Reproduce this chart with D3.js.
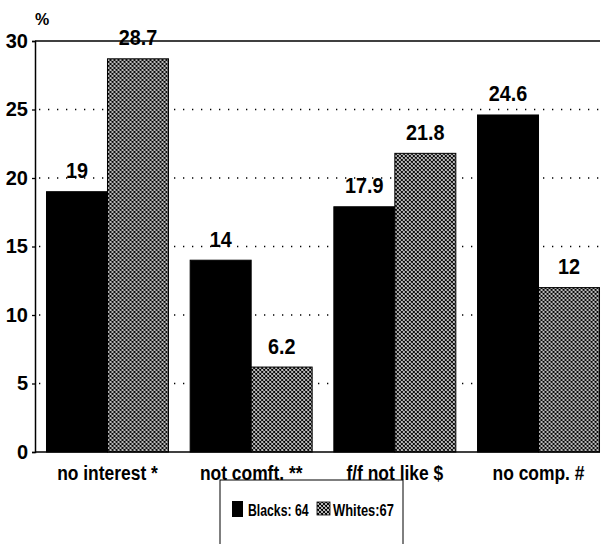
<!DOCTYPE html>
<html>
<head>
<meta charset="utf-8">
<script src="https://cdn.jsdelivr.net/npm/d3@7"></script>
<style>
  body { margin: 0; background: #fff; }
  svg { display: block; }
  text { font-family: "Liberation Sans", Arial, sans-serif; font-weight: bold; fill: #000; }
</style>
</head>
<body>
<svg id="chart" width="602" height="544"></svg>
<script>
const categories = ["no interest *", "not comft. **", "f/f not like $", "no comp. #"];
const seriesNames = ["Blacks: 64", "Whites:67"];
const blacks = [19, 14, 17.9, 24.6];
const whites = [28.7, 6.2, 21.8, 12];
const yTicks = [0, 5, 10, 15, 20, 25, 30];

const data = categories.map((c, i) => ({ cat: c, values: [blacks[i], whites[i]] }));

const chart = d3.select("#chart");
const plotLeft = 35, plotRight = 600, plotTop = 41, plotBottom = 452;

const defs = chart.append("defs");
const pat = defs.append("pattern")
  .attr("id", "hatch")
  .attr("patternUnits", "userSpaceOnUse")
  .attr("width", 4)
  .attr("height", 4);
pat.append("rect").attr("width", 4).attr("height", 4).attr("fill", "#fff");
pat.append("path")
  .attr("d", "M0,0 L4,4 M4,0 L0,4 M-1,3 L1,5 M3,-1 L5,1 M3,5 L5,3 M-1,1 L1,-1")
  .attr("stroke", "#000")
  .attr("stroke-width", 1.1);

const x0 = d3.scaleBand()
  .domain(categories)
  .range([plotLeft, 611])
  .paddingInner(0.151)
  .paddingOuter(0.08);

const x1 = d3.scaleBand()
  .domain([0, 1])
  .range([0, x0.bandwidth()]);

const yScale = d3.scaleLinear().domain([0, 30]).range([plotBottom, plotTop]);

// dotted grid
chart.append("g")
  .selectAll("line")
  .data(yTicks.filter((t) => t > 0 && t < 30))
  .enter()
  .append("line")
  .attr("x1", plotLeft + 4)
  .attr("x2", plotRight)
  .attr("y1", (d) => yScale(d))
  .attr("y2", (d) => yScale(d))
  .attr("stroke", "#000")
  .attr("stroke-width", 1.3)
  .attr("stroke-dasharray", "1.3,7.7");

// bars
const groups = chart.append("g")
  .selectAll("g")
  .data(data)
  .enter()
  .append("g")
  .attr("transform", (d) => `translate(${x0(d.cat)},0)`);

groups.selectAll("rect")
  .data((d) => d.values.map((v, i) => ({ v, i })))
  .enter()
  .append("rect")
  .attr("x", (d) => x1(d.i))
  .attr("y", (d) => yScale(d.v))
  .attr("width", x1.bandwidth())
  .attr("height", (d) => yScale(0) - yScale(d.v))
  .attr("fill", (d) => (d.i === 0 ? "#000" : "url(#hatch)"))
  .attr("stroke", "#000")
  .attr("stroke-width", 1);

groups.selectAll("text")
  .data((d) => d.values.map((v, i) => ({ v, i })))
  .enter()
  .append("text")
  .attr("transform", (d) => `translate(${x1(d.i) + x1.bandwidth() / 2},${yScale(d.v) - 13.5}) scale(0.9,1)`)
  .attr("text-anchor", "middle")
  .style("font-size", "22px")
  .text((d) => d.v);

// frame and axis
const yAxis = d3.axisLeft(yScale).tickValues(yTicks).tickSize(3).tickPadding(4);
const ay = chart.append("g").attr("transform", `translate(${plotLeft},0)`).call(yAxis);
ay.select(".domain").attr("stroke-width", 1.5);
ay.selectAll(".tick line").attr("stroke-width", 1.3);
ay.selectAll("text").style("font-size", "20px");

chart.append("line")
  .attr("x1", plotLeft).attr("x2", plotRight)
  .attr("y1", plotTop).attr("y2", plotTop)
  .attr("stroke", "#000").attr("stroke-width", 1.6);
chart.append("line")
  .attr("x1", plotLeft).attr("x2", plotRight)
  .attr("y1", plotBottom).attr("y2", plotBottom)
  .attr("stroke", "#000").attr("stroke-width", 1.6);

chart.append("text")
  .attr("x", 35)
  .attr("y", 25)
  .style("font-size", "16px")
  .text("%");

// category labels (narrow)
chart.append("g")
  .selectAll("text")
  .data(categories)
  .enter()
  .append("text")
  .attr("transform", (d) => `translate(${x0(d) + x0.bandwidth() / 2},480) scale(0.83,1)`)
  .attr("text-anchor", "middle")
  .style("font-size", "21px")
  .text((d) => d);

// legend
const legend = chart.append("g");
legend.append("rect")
  .attr("x", 220).attr("y", 480)
  .attr("width", 183).attr("height", 80)
  .attr("fill", "#fff")
  .attr("stroke", "#000")
  .attr("stroke-width", 1);
legend.append("rect")
  .attr("x", 232).attr("y", 501).attr("width", 11).attr("height", 16)
  .attr("fill", "#000");
legend.append("text")
  .attr("transform", "translate(248,516) scale(0.72,1)")
  .style("font-size", "17px")
  .text(seriesNames[0]);
legend.append("rect")
  .attr("x", 317).attr("y", 502).attr("width", 13).attr("height", 13)
  .attr("fill", "url(#hatch)")
  .attr("stroke", "#000").attr("stroke-width", 0.8);
legend.append("text")
  .attr("transform", "translate(333,516) scale(0.76,1)")
  .style("font-size", "17px")
  .text(seriesNames[1]);
</script>
</body>
</html>
